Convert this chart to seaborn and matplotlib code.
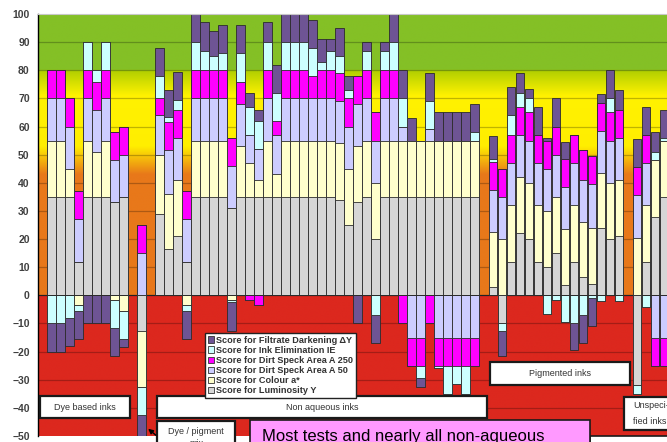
import numpy as np
import pandas as pd
import matplotlib
matplotlib.use("Agg")
import matplotlib.pyplot as plt
import seaborn as sns
from matplotlib.patches import Patch, Rectangle

# slot positions of the bars (gaps at 9, 11, 48, 64)
slots = list(range(0, 9)) + [10] + list(range(12, 48)) + list(range(49, 64)) + list(range(65, 69))

# positive scores, one value per bar in slot order
lum_pos = [35, 35, 35, 12, 35, 35, 35, 33, 35,
           0,
           29, 16.5, 21, 12, 35, 35, 35, 35, 31, 35, 35, 35, 35, 35, 35, 35, 35, 35, 35, 35,
           34, 25, 33, 35, 20, 35, 35, 35, 35, 35, 35, 35, 35, 35, 35, 35,
           3, 0, 12, 22, 20, 12, 10, 15, 3.5, 12, 6.5, 4, 24, 20, 21,
           0, 12, 28, 35]
col_pos = [20, 20, 10, 0, 20, 16, 20, 0, 0,
           0,
           21, 19.5, 20, 0, 20, 20, 20, 20, 0, 18, 12, 6, 20, 8, 20, 20, 20, 20, 20, 20,
           20, 20, 20, 20, 20, 20, 20, 20, 20, 20, 20, 20, 20, 20, 20, 20,
           19.5, 20, 20, 20, 20, 20, 20, 20, 20, 20, 19.5, 20, 19.5, 20, 20,
           20.5, 20, 20, 20]
a50_pos = [15, 15, 15, 15, 15, 15, 15, 15, 15,
           15,
           14, 15.5, 15, 15, 15, 15, 15, 15, 15, 15, 10, 11, 15, 14, 15, 15, 15, 15, 15, 15,
           15, 15, 15, 15, 15, 15, 15, 5, 0, 0, 4, 0, 0, 0, 0, 0,
           15, 15, 15, 15, 15, 15, 15, 15, 15, 15, 15, 15.5, 15, 15, 15,
           15, 15, 0, 0]
a250_pos = [10, 10, 10, 10, 10, 10, 10, 10, 10,
            10,
            6, 10, 10, 10, 10, 10, 10, 10, 10, 8, 0, 0, 10, 5, 10, 10, 10, 8, 10, 10,
            10, 10, 10, 10, 10, 10, 10, 0, 0, 0, 0, 0, 0, 0, 0, 0,
            10, 10, 10, 10, 10, 10, 10, 10, 10, 10, 10.5, 10, 10, 10, 10,
            10, 10, 0, 0]
ie_pos = [0, 0, 0, 0, 10, 4, 10, 0, 0,
          0,
          8, 2, 3.5, 0, 10, 7, 5, 6, 0, 10, 10, 10, 10, 10, 10, 10, 10, 10, 3, 7,
          6, 3, 0, 7, 0, 7, 10, 10, 0, 0, 10, 0, 0, 0, 0, 3,
          1, 0, 7, 5, 5, 0, 0, 0, 0, 0, 0, 0, 0, 5, 0,
          0, 0, 3, 1]
fd_pos = [0, 0, 0, 0, 0, 0, 0, 0, 0,
          0,
          10, 9.5, 10, 0, 10, 10, 9, 10, 0, 10, 5, 4, 7, 10, 10, 10, 10, 10, 8, 4,
          10, 5, 0, 3, 0, 3, 10, 10, 8, 0, 10, 10, 10, 10, 10, 10,
          8, 0, 10, 7, 3.5, 10, 1, 10, 6, 0, 0, 0, 3, 10, 7,
          10, 10, 7, 10]

# negative scores, by slot
lum_neg = {10: -12.5, 50: -10, 65: -32}
col_neg = {3: -3.5, 7: -1.5, 8: -5.5, 10: -20, 15: -3.5, 20: -1.5}
a50_neg = {40: -15, 41: -15, 43: -15, 44: -15, 45: -15, 46: -15, 47: -15, 67: -15, 68: -15}
a250_neg = {22: -1.5, 23: -3.5, 39: -10, 40: -10, 41: -10, 42: -10, 43: -10, 44: -10,
            45: -10, 46: -10, 47: -10, 67: -10, 68: -10}
ie_neg = {0: -10, 1: -10, 2: -8, 3: -2, 7: -10, 8: -10, 10: -10, 15: -2, 20: -1, 36: -7,
          41: -4.5, 43: -1, 44: -10, 45: -6.5, 46: -10, 50: -2.5, 55: -6.5, 56: -1.8,
          57: -9.5, 58: -10, 59: -7, 60: -1, 61: -2, 63: -2, 65: -3, 66: -4}
fd_neg = {0: -10, 1: -10, 2: -10, 3: -10, 4: -10, 5: -10, 6: -10, 7: -10, 8: -3, 10: -10,
          15: -10, 20: -10, 34: -10, 36: -10, 41: -3, 50: -9, 58: -9.5, 59: -10, 60: -10}

labels = ["Score for Luminosity Y", "Score for Colour a*", "Score for Dirt Speck Area A 50",
          "Score for Dirt Speck Area A 250", "Score for Ink Elimination IE",
          "Score for Filtrate Darkening \u0394Y"]
colors = ["#d6d6d6", "#ffffcc", "#ccccff", "#ff00ff", "#ccffff", "#6e5494"]

W, H = 667, 442

sns.set_style("white")
plt.rcParams["font.family"] = ["Liberation Sans", "DejaVu Sans"]

df = pd.DataFrame({"slot": slots, "lum": lum_pos, "col": col_pos, "a50": a50_pos,
                   "a250": a250_pos, "ie": ie_pos, "fd": fd_pos})
neg = pd.DataFrame({"slot": slots})
for name, d in zip(["lum", "col", "a50", "a250", "ie", "fd"],
                   [lum_neg, col_neg, a50_neg, a250_neg, ie_neg, fd_neg]):
    neg[name] = [d.get(s, 0) for s in slots]

fig = plt.figure(figsize=(W / 100, H / 100), dpi=100)
ax = fig.add_axes([38 / W, 6 / H, 629 / W, 422 / H])
xlo, xhi = (38 - 51.3) / 9.01, (667 - 51.3) / 9.01

# background bands
v = np.linspace(100, -50, 1501)
stops = [(-50, (220, 40, 30)), (0, (220, 40, 30)), (0.05, (232, 120, 26)), (43, (232, 120, 26)),
         (53, (255, 238, 0)), (71, (255, 242, 0)), (79.6, (180, 208, 0)), (80.4, (132, 192, 38)),
         (100, (132, 192, 38))]
sv = [s[0] for s in stops]
img = np.stack([np.interp(v, sv, [s[1][c] for s in stops]) for c in range(3)], axis=-1) / 255
img = np.repeat(img[:, None, :], 2, axis=1)
ax.imshow(img, extent=[xlo, xhi, -50, 100], aspect="auto", zorder=0, interpolation="bilinear")
for t in range(-40, 100, 10):
    ax.axhline(t, color="black", alpha=0.25, lw=0.9, zorder=0.5)

cols = ["lum", "col", "a50", "a250", "ie", "fd"]
for frame in (df, neg):
    for k in range(5, -1, -1):
        cum = frame[cols[:k + 1]].sum(axis=1)
        sns.barplot(x=frame["slot"], y=cum, native_scale=True, width=0.95, color=colors[k],
                    saturation=1, edgecolor="#2b2b2b", linewidth=0.6, errorbar=None, ax=ax)

ax.axhline(0, color="#222222", lw=0.8, zorder=0.6)
ax.set_xlim(xlo, xhi)
ax.set_ylim(-50, 100)
ax.set_xlabel("")
ax.set_ylabel("")
ax.set_xticks([])
ax.set_yticks(range(-50, 101, 10))
ax.tick_params(axis="y", direction="out", length=4, width=1, color="black", pad=2,
               labelsize=7.5, labelcolor="#404040")
for lab in ax.get_yticklabels():
    lab.set_fontweight("bold")
ax.spines["left"].set_color("black")
ax.spines["left"].set_linewidth(1)
ax.spines["top"].set_color("#c8c8c8")
ax.spines["right"].set_visible(False)
ax.spines["bottom"].set_visible(False)

handles = [Patch(facecolor=colors[k], edgecolor="#333333", linewidth=0.6, label=labels[k])
           for k in range(5, -1, -1)]
leg = fig.legend(handles=handles, loc="upper left", bbox_to_anchor=(205 / W, 1 - 333 / H),
                 bbox_transform=fig.transFigure, prop={"weight": "bold", "size": 6.6},
                 handlelength=0.7, handleheight=0.7, handletextpad=0.2, labelspacing=0.12,
                 borderpad=0.3, borderaxespad=0, fancybox=False, framealpha=1,
                 edgecolor="#222222")
leg.get_frame().set_linewidth(1)
for t in leg.get_texts():
    t.set_color("#333333")


def box(x0, y0, x1, y1, face="white", lw=1.6):
    fig.add_artist(Rectangle((x0 / W, 1 - y1 / H), (x1 - x0) / W, (y1 - y0) / H,
                             transform=fig.transFigure, facecolor=face, edgecolor="#1a1a1a",
                             linewidth=lw, zorder=5))


def label(x, y, s, size=6.5, ha="center", color="#333333"):
    fig.text(x / W, 1 - y / H, s, ha=ha, va="center", fontsize=size, color=color, zorder=6)


box(40, 396, 130, 418)
label(85, 407, "Dye based inks")
box(157, 396, 487, 418)
label(322, 407, "Non aqueous inks")
box(490, 362, 630, 385)
label(560, 373, "Pigmented inks")
box(624, 397, 700, 430)
label(633, 406, "Unspeci-", ha="left")
label(633, 421, "fied inks", ha="left")
box(157, 421, 235, 470)
label(196, 431, "Dye / pigment")
label(196, 444, "mix")
box(590, 436, 700, 470, lw=1.2)
box(250, 420, 590, 470, face="#ff99ff", lw=1.2)
label(262, 436, "Most tests and nearly all non-aqueous", size=12, ha="left", color="black")

fig.add_artist(matplotlib.patches.FancyArrowPatch(
    (158 / W, 1 - 437 / H), (146 / W, 1 - 427 / H), transform=fig.transFigure,
    arrowstyle="-|>", mutation_scale=7, color="black", lw=1, zorder=7))

fig.savefig("out.png", dpi=100)
